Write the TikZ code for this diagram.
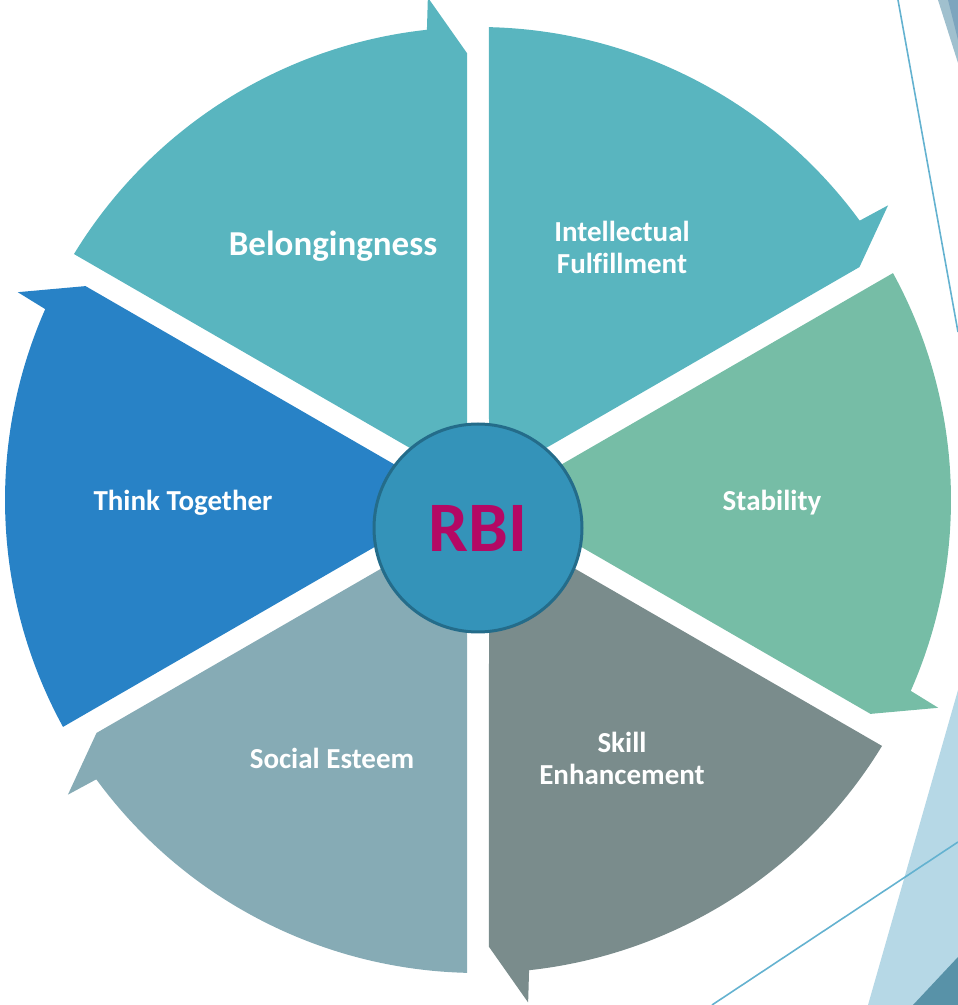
\documentclass[tikz,border=0pt]{standalone}
\usepackage{fontspec}
\setmainfont{Carlito}[Ligatures=NoCommon]
\definecolor{tealA}{RGB}{89,181,191}
\definecolor{greenS}{RGB}{118,189,166}
\definecolor{grayS}{RGB}{122,140,140}
\definecolor{blueG}{RGB}{134,171,181}
\definecolor{blueT}{RGB}{40,130,198}
\definecolor{rbiFill}{RGB}{52,147,185}
\definecolor{rbiBorder}{RGB}{36,108,138}
\definecolor{rbiText}{RGB}{180,8,100}
\definecolor{decoLight}{RGB}{182,216,230}
\definecolor{decoDark}{RGB}{88,146,168}
\definecolor{decoLine}{RGB}{100,178,208}
\definecolor{decoTopA}{RGB}{160,192,206}
\definecolor{decoTopB}{RGB}{125,165,190}
\begin{document}
\begin{tikzpicture}[x=1pt,y=1pt,
  lbl/.style={text=white, font=\bfseries\fontsize{29}{32}\selectfont, align=center, inner sep=0pt},
  decoline/.style={draw=decoLine, line width=1.6pt}]
\useasboundingbox (0,0) rectangle (958,1005);
% background decoration
\fill[decoLight] (958,315) -- (868,0) -- (958,0) -- cycle;
\fill[decoDark] (913,0) -- (958,48) -- (958,0) -- cycle;
\fill[decoTopA] (938,1005) -- (958,1005) -- (958,942) -- cycle;
\fill[decoTopB] (948,1005) -- (958,1005) -- (958,965) -- cycle;
\coordinate (l1a) at (712,0);
\coordinate (l1b) at (958,163);
\coordinate (l2a) at (898,1005);
\coordinate (l2b) at (958,673);
\draw[decoline] (l1a) -- (l1b);
\draw[decoline] (l2a) -- (l2b);
% segments
\foreach \a/\col in {90/tealA, 30/greenS, -30/grayS, -90/blueG, 210/blueT, 150/tealA} {
  \fill[\col, shift={(478,505)}] (\a-1.33:473)
     arc[start angle=\a-1.33, end angle=\a-53.8, radius=473pt]
     -- (\a-54.3:505) -- (\a-58.59:447) -- (\a-30:22) -- cycle;
}
% centre
\node[circle, draw=rbiBorder, line width=3pt, fill=rbiFill, minimum size=208pt, inner sep=0pt,
      text=rbiText, font=\bfseries\fontsize{71}{71}\selectfont] (rbi) at (478,477) {RBI};
% labels
\node[lbl, font=\bfseries\fontsize{35}{40}\selectfont] (belong) at (333,759) {Belongingness};
\node[lbl] (intel) at (622,758) {Intellectual\\Fulfillment};
\node[lbl] (stab) at (772,502) {Stability};
\node[lbl] (skill) at (622,247) {Skill\\Enhancement};
\node[lbl] (social) at (332,247) {Social Esteem};
\node[lbl] (think) at (183,502) {Think Together};
\end{tikzpicture}
\end{document}
